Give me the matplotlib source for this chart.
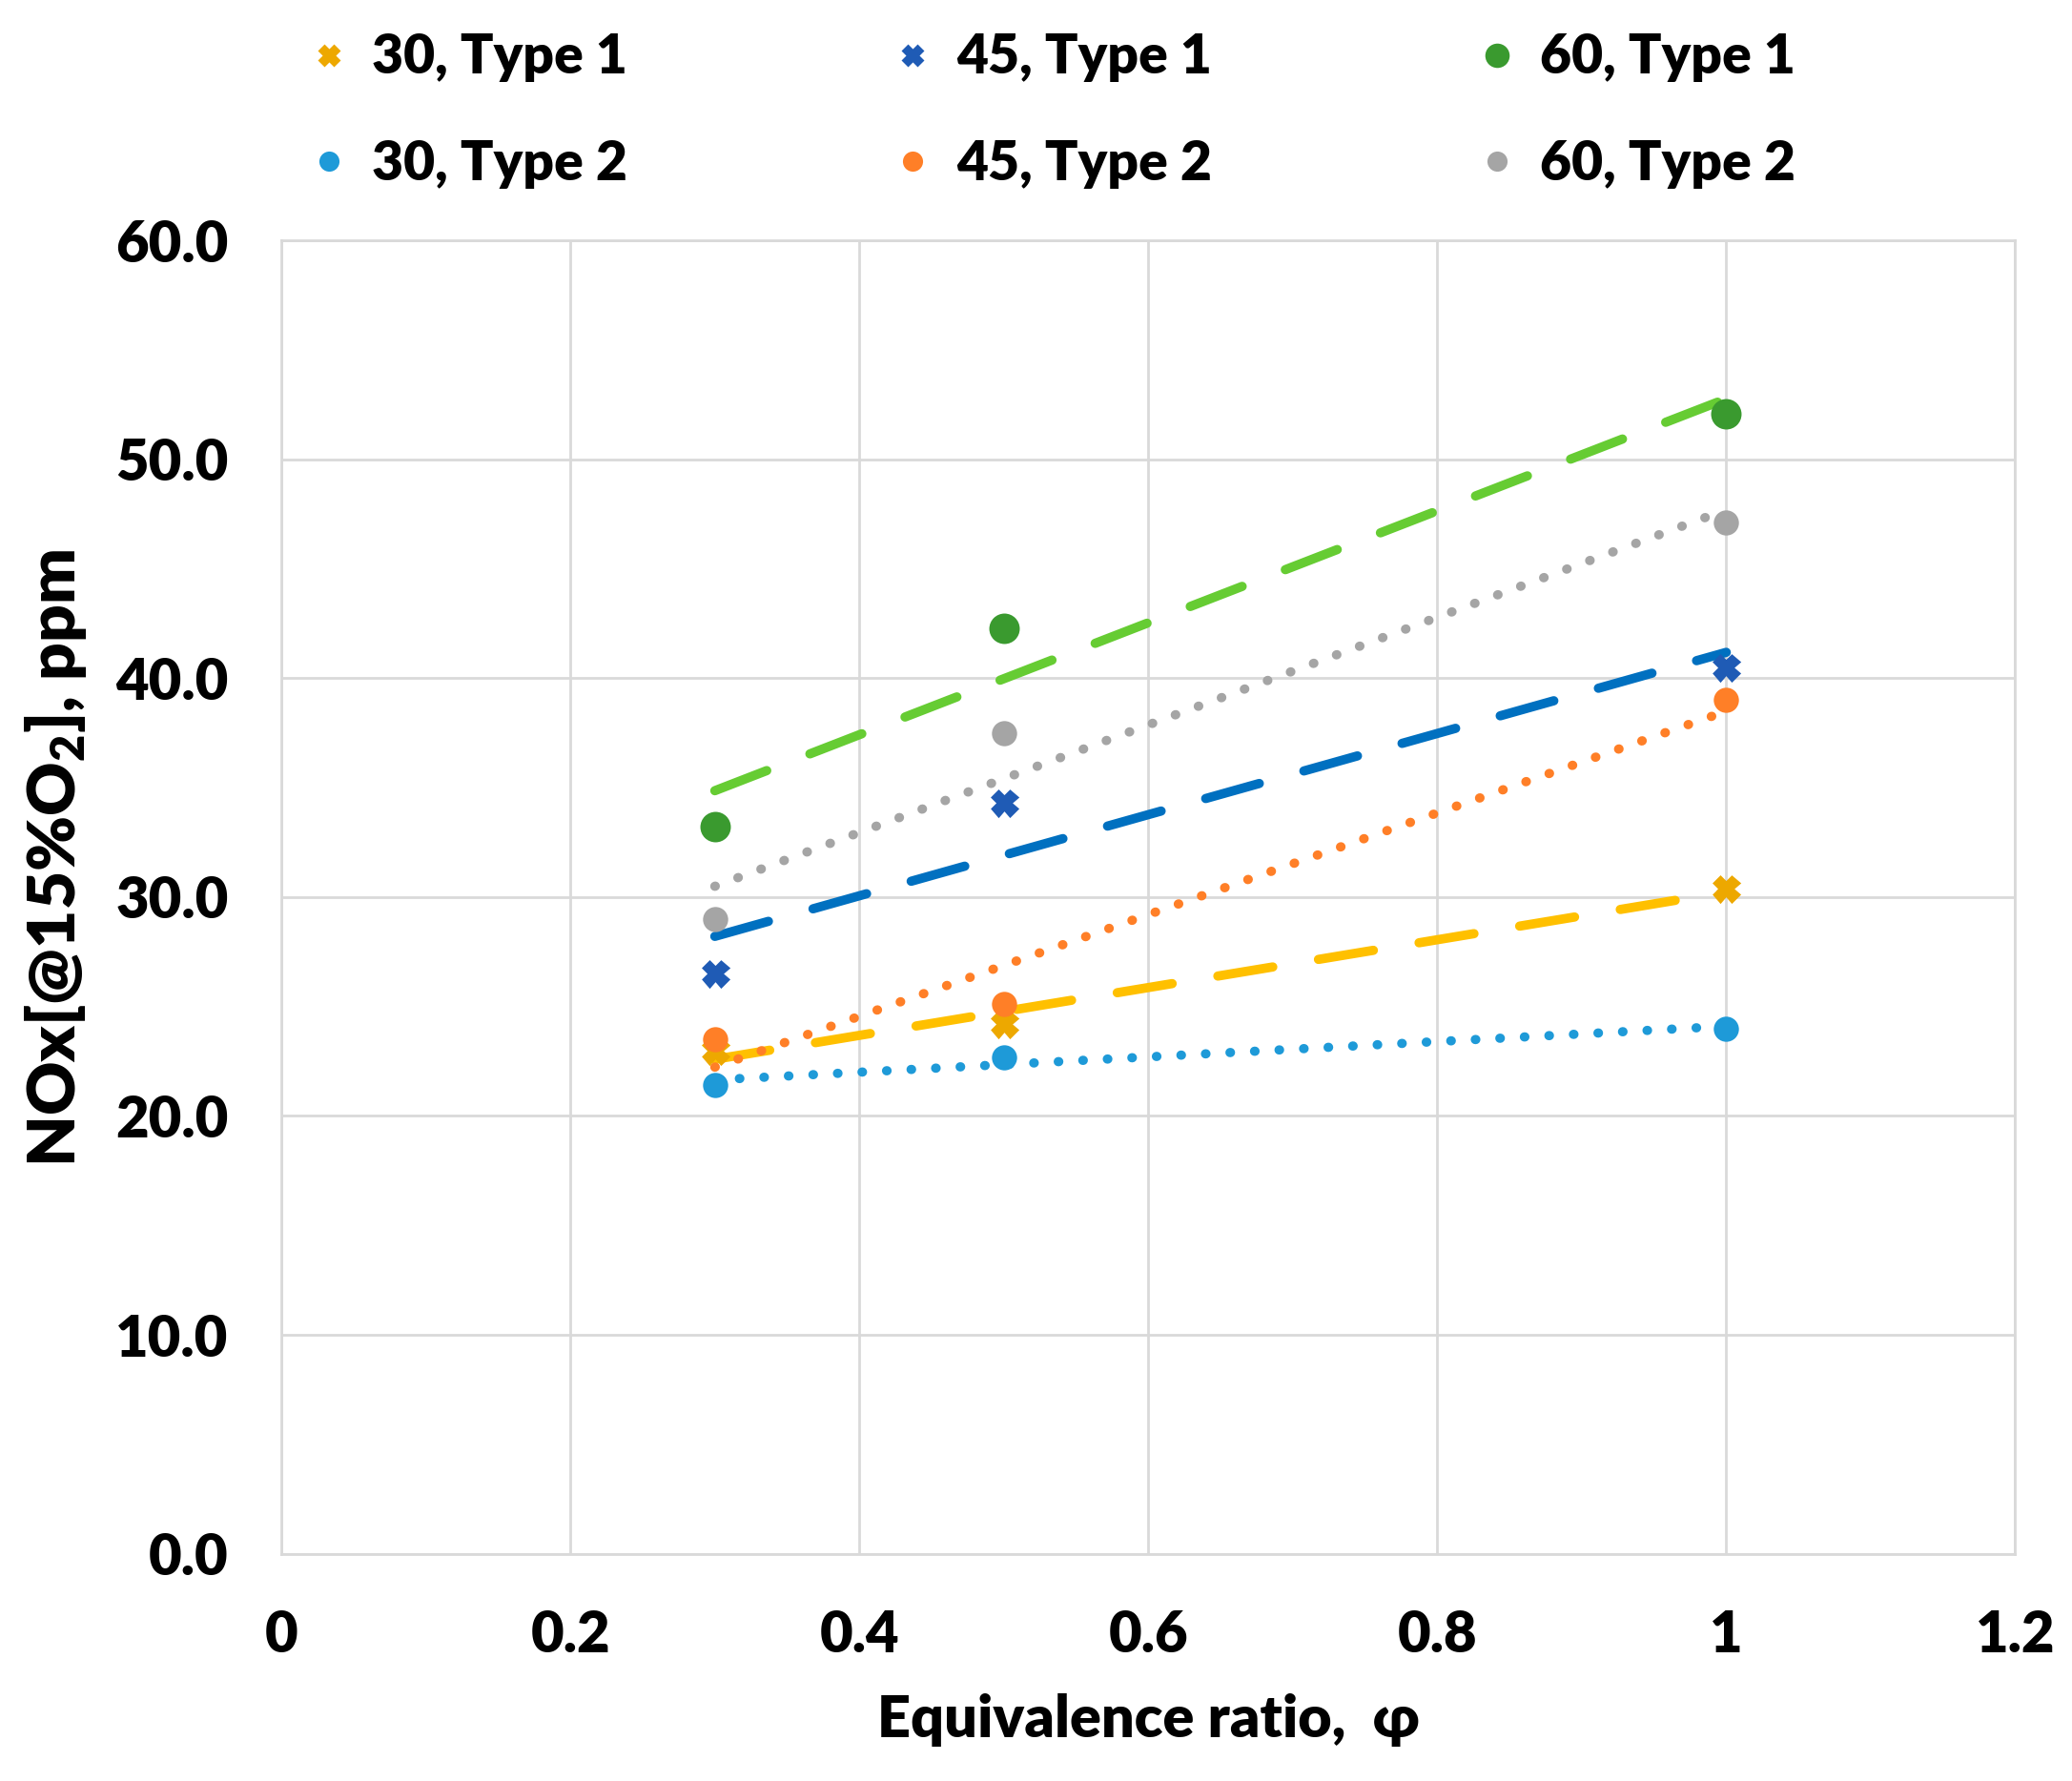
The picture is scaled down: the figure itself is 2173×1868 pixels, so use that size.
import numpy as np
import matplotlib
matplotlib.use("Agg")
import matplotlib.pyplot as plt
from matplotlib.lines import Line2D

plt.rcParams['font.family'] = ['Lato', 'DejaVu Sans']
plt.rcParams['font.weight'] = 'heavy'
plt.rcParams['mathtext.fontset'] = 'custom'
plt.rcParams['mathtext.rm'] = 'Lato:heavy'
plt.rcParams['mathtext.it'] = 'Lato:heavy'
plt.rcParams['mathtext.bf'] = 'Lato:heavy'

# equivalence ratio
phi = [0.3, 0.5, 1.0]

# NOx values
nox_30_t1 = [23.0, 24.2, 30.4]
nox_45_t1 = [26.5, 34.3, 40.5]
nox_60_t1 = [33.2, 42.3, 52.1]
nox_30_t2 = [21.4, 22.7, 24.0]
nox_45_t2 = [23.5, 25.1, 39.0]
nox_60_t2 = [29.0, 37.5, 47.1]

labels = ['30, Type 1', '30, Type 2', '45, Type 1', '45, Type 2', '60, Type 1', '60, Type 2']
series = [nox_30_t1, nox_30_t2, nox_45_t1, nox_45_t2, nox_60_t1, nox_60_t2]
marker_colors = ['#EDA800', '#1E9AD8', '#1F5BB5', '#FF7F27', '#3A9A2F', '#A5A5A5']
trend_colors = ['#FFC000', '#1E9AD8', '#0070C0', '#FF7F27', '#66CC33', '#A5A5A5']
markers = ['X', 'o', 'X', 'o', 'o', 'o']
msizes = [18, 19, 18, 19, 23, 19]
trend_style = [(6, 5), (0.05, 2.6), (6, 5), (0.05, 2.6), (6, 5), (0.05, 2.6)]

fig = plt.figure(figsize=(21.73, 18.68), dpi=100)
ax = fig.add_axes([0.1358, 0.1276, 0.8368, 0.7374])

x = np.array(phi)
handles = []
for ys, lab, mc, tc, mk, ms, ds in zip(series, labels, marker_colors, trend_colors, markers, msizes, trend_style):
    # linear trendline (like Excel)
    k, b = np.polyfit(x, ys, 1)
    xs = np.array([x.min(), x.max()])
    ax.plot(xs, k * xs + b, color=tc, lw=7, dashes=ds, dash_capstyle='round', zorder=2)
    mew = 2.5 if mk == 'X' else 0
    ax.plot(x, ys, linestyle='none', marker=mk, color=mc, markersize=ms, markeredgewidth=mew,
            markeredgecolor=mc, zorder=3)
    handles.append(Line2D([], [], linestyle='none', marker=mk, color=mc, markersize=ms * 0.8,
                          markeredgewidth=mew * 0.8, markeredgecolor=mc))

ax.set_xlim(0, 1.2)
ax.set_ylim(0, 60)
ax.set_xticks([0, 0.2, 0.4, 0.6, 0.8, 1.0, 1.2])
ax.set_xticklabels(['0', '0.2', '0.4', '0.6', '0.8', '1', '1.2'])
ax.set_yticks(np.arange(0, 61, 10))
ax.set_yticklabels([f'{v:.1f}' for v in np.arange(0, 61, 10)])
ax.tick_params(axis='both', length=0, labelsize=43)
ax.tick_params(axis='y', pad=40)
ax.tick_params(axis='x', pad=42)
ax.grid(True, color='#D9D9D9', lw=2)
ax.set_axisbelow(True)
for s in ax.spines.values():
    s.set_color('#D9D9D9')
    s.set_linewidth(2)

ax.set_xlabel('Equivalence ratio,  φ', fontsize=44, fontweight='heavy', labelpad=24)
ax.set_ylabel('NOx[@15%O$_2$], ppm', fontsize=50, fontweight='heavy')
ax.yaxis.set_label_coords(-0.111, 0.53)

fig.legend(handles, labels, loc='upper left', bbox_to_anchor=(0.122, 1.009), ncol=3,
           frameon=False, fontsize=41, columnspacing=4.75, handletextpad=0.3,
           labelspacing=1.05, handlelength=1.0)

fig.savefig('out.png', dpi=100, facecolor='white')
